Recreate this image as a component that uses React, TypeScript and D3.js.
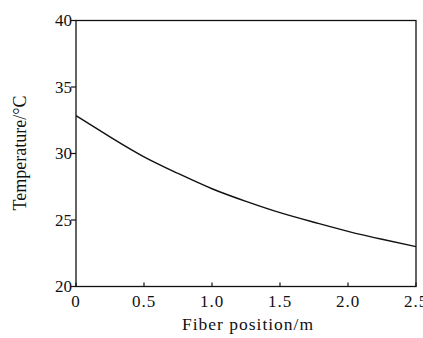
import { useEffect, useRef } from 'react'
import * as d3 from 'd3'

const positions = [0, 0.25, 0.5, 0.75, 1.0, 1.25, 1.5, 1.75, 2.0, 2.25, 2.5]
const temperatures = [32.85, 31.25, 29.75, 28.5, 27.35, 26.4, 25.55, 24.83, 24.15, 23.55, 23.0]
const xTicks = [0, 0.5, 1.0, 1.5, 2.0, 2.5]
const xTickLabels = ['0', '0.5', '1.0', '1.5', '2.0', '2.5']
const yTicks = [20, 25, 30, 35, 40]

export default function App() {
  const svgRef = useRef<SVGSVGElement | null>(null)

  useEffect(() => {
    if (!svgRef.current) return
    const svg = d3.select(svgRef.current)
    svg.selectAll('*').remove()

    const left = 76, top = 20.5, right = 416, bottom = 286.5
    const x = d3.scaleLinear().domain([0, 2.5]).range([left, right])
    const y = d3.scaleLinear().domain([20, 40]).range([bottom, top])
    const font = '"Liberation Serif", "Times New Roman", serif'

    // frame
    svg.append('rect').attr('x', left).attr('y', top)
      .attr('width', right - left).attr('height', bottom - top)
      .attr('fill', 'none').attr('stroke', '#111').attr('stroke-width', 1.3)

    // x ticks (inward)
    xTicks.forEach((t, i) => {
      svg.append('line').attr('x1', x(t)).attr('x2', x(t))
        .attr('y1', bottom).attr('y2', bottom - 4)
        .attr('stroke', '#111').attr('stroke-width', 1.2)
      svg.append('text').attr('x', x(t)).attr('y', 307)
        .attr('text-anchor', 'middle').attr('font-family', font).attr('font-size', '17px')
        .attr('letter-spacing', '1px').attr('fill', '#111').text(xTickLabels[i])
    })

    // y ticks (outward)
    yTicks.forEach(t => {
      svg.append('line').attr('x1', left).attr('x2', left - 5)
        .attr('y1', y(t)).attr('y2', y(t))
        .attr('stroke', '#111').attr('stroke-width', 1.2)
      svg.append('text').attr('x', 72).attr('y', y(t) + 5.5)
        .attr('text-anchor', 'end').attr('font-family', font).attr('font-size', '17px')
        .attr('fill', '#111').text(t)
    })

    const line = d3.line<number>()
      .x((_, i) => x(positions[i]))
      .y(d => y(d))
      .curve(d3.curveNatural)

    svg.append('path').datum(temperatures)
      .attr('d', line).attr('fill', 'none')
      .attr('stroke', '#111').attr('stroke-width', 1.4)

    svg.append('text').attr('x', 248).attr('y', 330)
      .attr('text-anchor', 'middle').attr('font-family', font).attr('font-size', '17.5px')
      .attr('letter-spacing', '1px').attr('fill', '#111').text('Fiber position/m')
    svg.append('text').attr('transform', 'translate(26,153) rotate(-90)')
      .attr('text-anchor', 'middle').attr('font-family', font).attr('font-size', '18px')
      .attr('fill', '#111').text('Temperature/°C')
  }, [])

  return (
    <svg ref={svgRef} width={423} height={338}
      style={{ position: 'absolute', left: 0, top: 0, background: '#fff' }} />
  )
}
